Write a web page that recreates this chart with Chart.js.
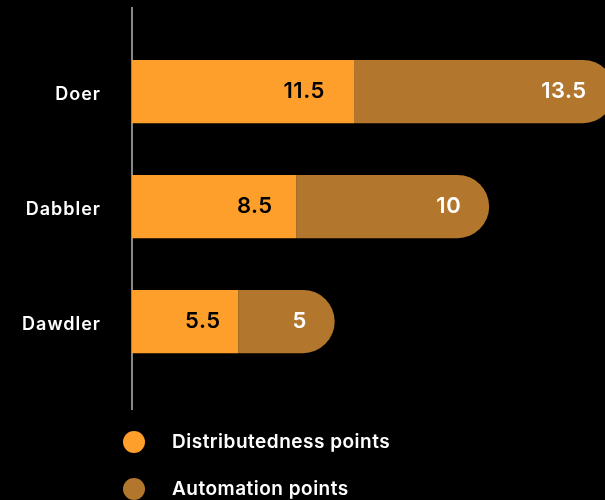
<!DOCTYPE html>
<html>
<head>
<meta charset="utf-8">
<script src="https://cdn.jsdelivr.net/npm/chart.js@4.4.1/dist/chart.umd.min.js"></script>
<style>
  html, body { margin: 0; padding: 0; background: #000; }
  #wrap { position: relative; width: 605px; height: 420px; }
  #legend { position: absolute; top: 418px; left: 0; margin: 0; padding: 0; list-style: none;
            font-family: Inter, sans-serif; font-weight: 600; font-size: 19px; letter-spacing: 0.5px; color: #fff; }
  #legend li { height: 47px; display: flex; align-items: center; }
  #legend span.dot { width: 22px; height: 22px; border-radius: 50%; margin-left: 123px; margin-right: 27px; }
</style>
</head>
<body>
<div id="wrap"><canvas id="chart"></canvas></div>
<ul id="legend"></ul>
<script>
// points per profile
const categories = ['Doer', 'Dabbler', 'Dawdler'];
const distributedness = [11.5, 8.5, 5.5];
const automation = [13.5, 10, 5];
const seriesNames = ['Distributedness points', 'Automation points'];

const orange = '#ff9f2b';
const brown = '#b2772c';

// wider tracking for the canvas text
const tracking = {
    id: 'tracking',
    beforeDraw(chart) {
        chart.ctx.letterSpacing = '1px';
    }
};

// vertical axis line, a bit longer than the plot area
const axisLine = {
    id: 'axisLine',
    beforeDatasetsDraw(chart) {
        const {ctx, chartArea} = chart;
        ctx.save();
        ctx.strokeStyle = '#b4b4b4';
        ctx.lineWidth = 1.5;
        ctx.beginPath();
        ctx.moveTo(chartArea.left, chartArea.top - 27);
        ctx.lineTo(chartArea.left, chartArea.bottom + 31);
        ctx.stroke();
        ctx.restore();
    }
};

// value text at the end of each segment
const valueLabels = {
    id: 'valueLabels',
    afterDatasetsDraw(chart) {
        const ctx = chart.ctx;
        ctx.save();
        ctx.font = '600 22px Inter, sans-serif';
        ctx.letterSpacing = '0.5px';
        ctx.textAlign = 'right';
        ctx.textBaseline = 'middle';
        chart.data.datasets.forEach((ds, i) => {
            const meta = chart.getDatasetMeta(i);
            ctx.fillStyle = i === 0 ? '#000' : '#fff';
            meta.data.forEach((bar, j) => {
                const pad = i === 0 ? 7 + 0.1 * (bar.x - bar.base) : 28;
                ctx.fillText(String(ds.data[j]), bar.x - pad, bar.y);
            });
        });
        ctx.restore();
    }
};

const ctx = document.getElementById('chart').getContext('2d');
const chart = new Chart(ctx, {
    type: 'bar',
    data: {
        labels: categories,
        datasets: [{
            label: seriesNames[0],
            data: distributedness,
            backgroundColor: orange,
            borderWidth: 0,
            borderRadius: 0
        }, {
            label: seriesNames[1],
            data: automation,
            backgroundColor: brown,
            borderWidth: 0,
            borderRadius: 32
        }]
    },
    options: {
        indexAxis: 'y',
        responsive: true,
        maintainAspectRatio: false,
        animation: false,
        datasets: {
            bar: { barPercentage: 0.55, categoryPercentage: 1.0 }
        },
        layout: { padding: { top: 34, bottom: 41, left: 0, right: 0 } },
        scales: {
            x: {
                stacked: true,
                display: false,
                min: 0,
                max: 24.5
            },
            y: {
                stacked: true,
                grid: { display: false, drawTicks: false },
                border: { display: false },
                ticks: {
                    color: '#fff',
                    padding: 31,
                    labelOffset: 3,
                    font: { family: 'Inter, sans-serif', size: 18, weight: '600' }
                },
                afterFit(scale) {
                    scale.width = 132;
                    scale.paddingTop = 0;
                    scale.paddingBottom = 0;
                }
            }
        },
        plugins: {
            legend: { display: false },
            tooltip: { enabled: false }
        }
    },
    plugins: [tracking, axisLine, valueLabels]
});

// legend list
const legend = document.getElementById('legend');
chart.data.datasets.forEach(ds => {
    const li = document.createElement('li');
    const dot = document.createElement('span');
    dot.className = 'dot';
    dot.style.background = ds.backgroundColor;
    li.appendChild(dot);
    li.appendChild(document.createTextNode(ds.label));
    legend.appendChild(li);
});
</script>
</body>
</html>
